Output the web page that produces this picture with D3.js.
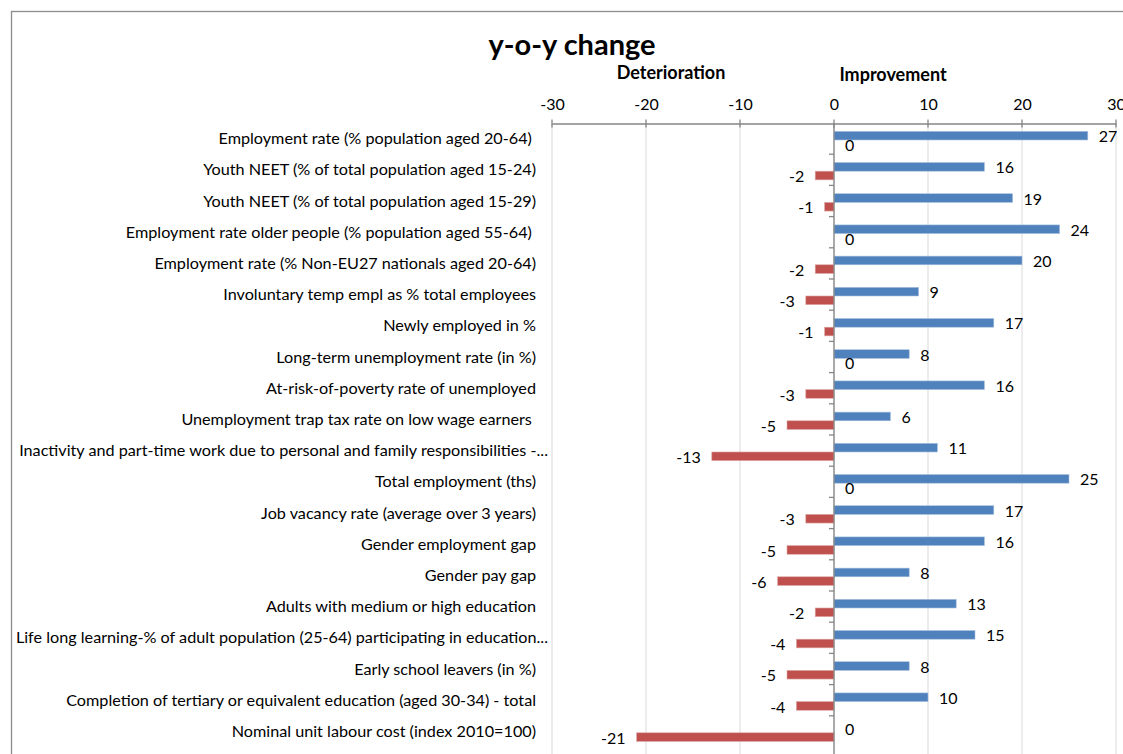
<!DOCTYPE html>
<html>
<head>
<meta charset="utf-8">
<script src="https://cdn.jsdelivr.net/npm/d3@7"></script>
<style>
  body { margin: 0; background: #fff; }
  text { font-family: Lato, "Open Sans", sans-serif; fill: #000; }
</style>
</head>
<body>
<svg id="chart" width="1123" height="754"></svg>
<script>
// indicator names (top to bottom)
let categories = [
    "Employment rate (% population aged 20-64) ",
    "Youth NEET (% of total population aged 15-24)",
    "Youth NEET (% of total population aged 15-29)",
    "Employment rate older people (% population aged 55-64) ",
    "Employment rate (% Non-EU27 nationals aged 20-64)",
    "Involuntary temp empl as % total employees",
    "Newly employed in %",
    "Long-term unemployment rate (in %)",
    "At-risk-of-poverty rate of unemployed",
    "Unemployment trap tax rate on low wage earners ",
    "Inactivity and part-time work due to personal and family responsibilities -...",
    "Total employment (ths)",
    "Job vacancy rate (average over 3 years)",
    "Gender employment gap",
    "Gender pay gap",
    "Adults with medium or high education",
    "Life long learning-% of adult population (25-64) participating in education...",
    "Early school leavers (in %)",
    "Completion of tertiary or equivalent education (aged 30-34) - total",
    "Nominal unit labour cost (index 2010=100)"
];

// number of member states improving / deteriorating
let improvement = [27, 16, 19, 24, 20, 9, 17, 8, 16, 6, 11, 25, 17, 16, 8, 13, 15, 8, 10, 0];
let deterioration = [0, -2, -1, 0, -2, -3, -1, 0, -3, -5, -13, 0, -3, -5, -6, -2, -4, -5, -4, -21];

let xTicks = [-30, -20, -10, 0, 10, 20, 30];

let svg = d3.select("#chart");

// outer frame
svg.append("rect")
    .attr("x", 11.5).attr("y", 11.5)
    .attr("width", 1130).attr("height", 760)
    .attr("fill", "none")
    .attr("stroke", "#8c8c8c")
    .attr("stroke-width", 1.3);

let x = d3.scaleLinear().domain([-30, 30]).range([552, 1116]);
let y = d3.scaleBand().domain(categories).range([123, 747]);
let ySub = d3.scaleBand().domain(["imp", "det"]).range([0, y.bandwidth()])
    .paddingOuter(0.8).align(0.6);

// gridlines
svg.append("g")
    .selectAll("line")
    .data(xTicks)
    .join("line")
    .attr("x1", d => x(d)).attr("x2", d => x(d))
    .attr("y1", 123).attr("y2", 754)
    .attr("stroke", "#d9d9d9")
    .attr("stroke-width", 1);

// top axis (plain hyphen for negatives, like the original)
let xAxis = svg.append("g")
    .attr("transform", "translate(0,123.5)")
    .call(d3.axisTop(x).tickValues(xTicks).tickSize(0).tickPadding(14)
        .tickFormat(d => String(d)));
xAxis.select(".domain").attr("stroke", "#868686").attr("stroke-width", 1.3);
xAxis.selectAll("text").style("font-size", "16px").attr("fill", "#000");
xAxis.selectAll(".tickmark")
    .data(xTicks)
    .join("line")
    .attr("x1", d => x(d)).attr("x2", d => x(d))
    .attr("y1", -4).attr("y2", 4)
    .attr("stroke", "#868686").attr("stroke-width", 1.3);

// bars
let rows = svg.append("g")
    .selectAll("g")
    .data(categories)
    .join("g")
    .attr("transform", d => `translate(0,${y(d)})`);

rows.append("rect")
    .attr("x", (d, i) => x(0))
    .attr("y", ySub("imp"))
    .attr("width", (d, i) => x(improvement[i]) - x(0))
    .attr("height", ySub.bandwidth())
    .attr("fill", "#4f81bd")
    .attr("stroke", "#a7c0de").attr("stroke-width", 0.6);

rows.append("rect")
    .attr("x", (d, i) => x(deterioration[i]))
    .attr("y", ySub("det"))
    .attr("width", (d, i) => x(0) - x(deterioration[i]))
    .attr("height", ySub.bandwidth())
    .attr("fill", "#c0504d")
    .attr("stroke", "#dca8a7").attr("stroke-width", 0.6);

// value labels
function addLabel(vals, key) {
    rows.append("text")
        .attr("x", (d, i) => vals[i] < 0 ? x(vals[i]) - 11 : x(vals[i]) + 11)
        .attr("y", ySub(key) + ySub.bandwidth() / 2 + 1)
        .attr("dy", "0.35em")
        .attr("text-anchor", (d, i) => vals[i] < 0 ? "end" : "start")
        .style("font-size", "16px")
        .text((d, i) => vals[i]);
}
addLabel(improvement, "imp");
addLabel(deterioration, "det");

// vertical axis at zero
let yAxis = svg.append("g")
    .attr("transform", `translate(${x(0)},0)`);
yAxis.append("line")
    .attr("y1", 123).attr("y2", 754)
    .attr("stroke", "#868686").attr("stroke-width", 1.3);
yAxis.selectAll(".tk")
    .data(categories.slice(1))
    .join("line")
    .attr("class", "tk")
    .attr("x1", -5).attr("x2", 0)
    .attr("y1", d => y(d)).attr("y2", d => y(d))
    .attr("stroke", "#868686").attr("stroke-width", 1.3);

// category labels (truncated ones run a little further right)
svg.append("g")
    .selectAll("text")
    .data(categories)
    .join("text")
    .attr("x", d => d.endsWith("...") ? 548 : 536)
    .attr("y", d => y(d) + y.bandwidth() / 2)
    .attr("dy", "0.35em")
    .attr("text-anchor", "end")
    .style("font-size", "16.2px")
    .style("white-space", "pre")
    .text(d => d);

// titles
svg.append("text")
    .attr("x", 572).attr("y", 55)
    .attr("text-anchor", "middle")
    .style("font-size", "29px").style("font-weight", "bold")
    .text("y-o-y change");

svg.append("text")
    .attr("x", 671).attr("y", 79)
    .attr("text-anchor", "middle")
    .style("font-size", "18px").style("font-weight", "bold")
    .text("Deterioration");

svg.append("text")
    .attr("x", 893).attr("y", 81)
    .attr("text-anchor", "middle")
    .style("font-size", "18px").style("font-weight", "bold")
    .text("Improvement");
</script>
</body>
</html>
